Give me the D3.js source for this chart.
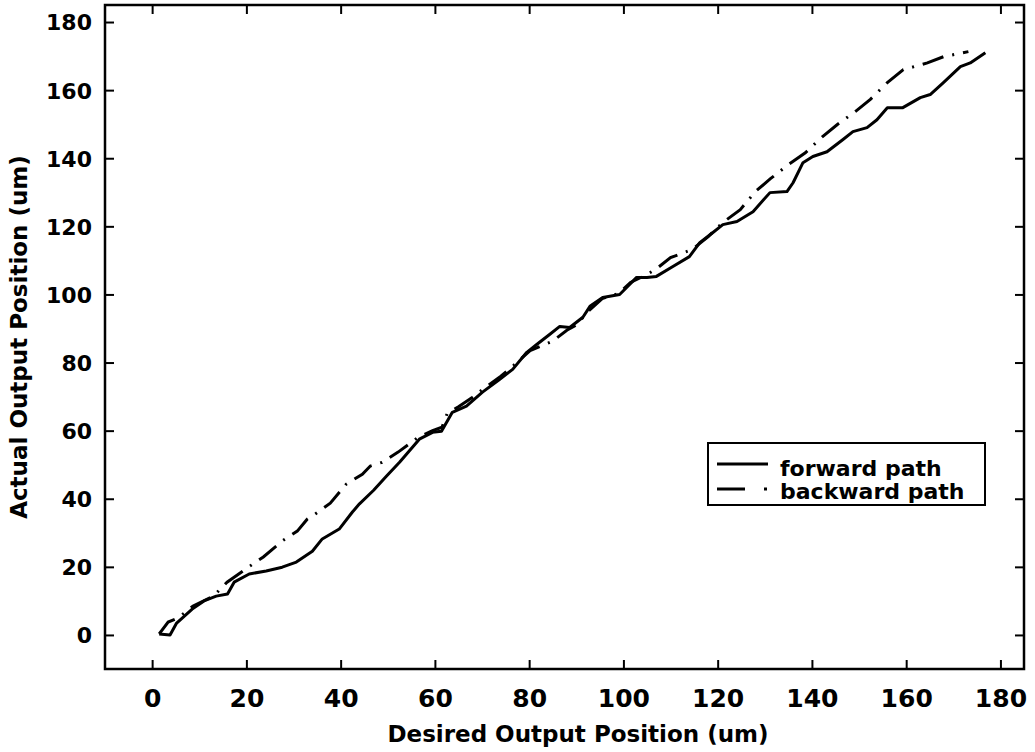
<!DOCTYPE html>
<html>
<head>
<meta charset="utf-8">
<script src="https://cdn.jsdelivr.net/npm/d3@7"></script>
<style>
  body { margin: 0; background: white; }
  svg { display: block; }
</style>
</head>
<body>
<svg></svg>
<script>
const w = 1035;
const h = 752;

// forward path: [desired, actual] in um
const forwardPath = [
  [1.5, 0.3], [3.8, 0], [5.2, 3.5], [8.5, 7.6], [11, 10], [13.6, 11.4], [16, 12],
  [17.4, 15.5], [20.6, 17.9], [24.2, 18.8], [27.6, 19.9], [30.6, 21.4], [34, 24.6],
  [36.1, 28.2], [39.7, 31.1], [42.5, 36.1], [44, 38.5], [47, 42.5], [49.7, 46.6],
  [52.5, 50.7], [56.7, 57.5], [59.5, 59.5], [61.4, 59.8], [63.7, 65.4], [66.7, 67.2],
  [70.1, 71.3], [73.7, 75], [76.5, 78], [79.5, 83], [81.6, 85.3], [84.4, 88.3],
  [86.5, 90.6], [88.6, 90.3], [91.4, 93.3], [92.9, 96.5], [95.6, 99.1], [99.2, 100],
  [102.8, 105], [105, 105], [107, 105.3], [110.5, 108.2], [114, 111.1], [116.2, 115.2],
  [119, 118.2], [121.1, 120.5], [124.1, 121.4], [127.5, 124.3], [131.1, 129.9],
  [134.7, 130.2], [136, 132.8], [138.1, 138.7], [140.2, 140.5], [143.2, 141.9],
  [146.6, 145.5], [148.7, 147.8], [151.7, 149], [153.8, 151.3], [156, 154.8],
  [159.2, 154.8], [163, 157.8], [165.1, 158.7], [167.9, 162.2], [171.5, 166.9],
  [173.6, 168], [176.8, 171]
];

// backward path: [desired, actual] in um
const backwardPath = [
  [1.5, 0.3], [3.4, 3.8], [5.5, 5], [8.7, 8.5], [13, 11.4], [15.9, 15.5], [20.4, 19.9],
  [23.6, 22.9], [27.6, 27.6], [30.8, 30.5], [32.9, 34], [34.6, 35.5], [37.8, 38.7],
  [41.2, 44.3], [44.6, 47.2], [46.3, 49.6], [48.8, 50.7], [52.2, 53.7], [56.5, 58.1],
  [59.5, 60], [61.5, 61], [62.6, 65], [65, 67], [68, 69.8], [71, 73], [74, 76],
  [77, 79.5], [80.2, 83.5], [84.9, 86.2], [88, 89.5], [90, 91], [92.5, 95], [95.5, 98.8],
  [99, 100.3], [101.5, 103.5], [104.2, 105.3], [106.8, 107.3], [110, 110.8],
  [114.6, 113.2], [118, 117], [121, 121], [124.8, 124.9], [128, 130.2], [131.2, 134],
  [135, 138.1], [138.6, 141.6], [142.2, 146.3], [145.4, 149.9], [149.2, 153.7],
  [152.4, 157.3], [156, 162.2], [159.4, 166], [164.5, 168], [167.9, 169.8], [173.2, 171.3]
];

const xTicks = [0, 20, 40, 60, 80, 100, 120, 140, 160, 180];
const yTicks = [0, 20, 40, 60, 80, 100, 120, 140, 160, 180];
const seriesNames = ["forward path", "backward path"];

const font = "'DejaVu Sans', sans-serif";
const dashDot = "22,9,2,9";

const svg = d3.select("svg")
    .attr("width", w)
    .attr("height", h)
    .attr("viewBox", [0, 0, w, h]);

svg.append("rect").attr("width", w).attr("height", h).attr("fill", "white");

const plotLeft = 105, plotRight = 1024, plotTop = 5, plotBottom = 669;

const x = d3.scaleLinear().domain([-10, 185]).range([plotLeft, plotRight]);
const y = d3.scaleLinear().domain([-10, 185]).range([plotBottom, plotTop]);

// axes, ticks pointing inward on all four sides
const xAxis = svg.append("g")
    .attr("transform", `translate(0,${plotBottom})`)
    .call(d3.axisBottom(x).tickValues(xTicks).tickSizeInner(-9).tickSizeOuter(0));
xAxis.selectAll("text")
    .attr("y", 38).attr("dy", 0)
    .attr("font-size", "25px");

const yAxis = svg.append("g")
    .attr("transform", `translate(${plotLeft},0)`)
    .call(d3.axisLeft(y).tickValues(yTicks).tickSizeInner(-9).tickSizeOuter(0));
yAxis.selectAll("text")
    .attr("x", -13)
    .attr("dy", "0.36em")
    .attr("font-size", "22px");

svg.append("g")
    .attr("transform", `translate(0,${plotTop})`)
    .call(d3.axisTop(x).tickValues(xTicks).tickSizeInner(-9).tickSizeOuter(0).tickFormat(""));
svg.append("g")
    .attr("transform", `translate(${plotRight},0)`)
    .call(d3.axisRight(y).tickValues(yTicks).tickSizeInner(-9).tickSizeOuter(0).tickFormat(""));

svg.selectAll(".domain").remove();
svg.selectAll(".tick line").attr("stroke", "#000").attr("stroke-width", 2);
svg.selectAll(".tick text")
    .attr("fill", "#000")
    .attr("font-family", font)
    .attr("font-weight", "bold");

svg.append("rect")
    .attr("x", plotLeft).attr("y", plotTop)
    .attr("width", plotRight - plotLeft).attr("height", plotBottom - plotTop)
    .attr("fill", "none")
    .attr("stroke", "#000")
    .attr("stroke-width", 2.5);

// axis labels
svg.append("text")
    .attr("x", 578)
    .attr("y", 742)
    .attr("text-anchor", "middle")
    .attr("font-family", font)
    .attr("font-weight", "bold")
    .attr("font-size", "23px")
    .text("Desired Output Position (um)");

svg.append("text")
    .attr("transform", `translate(27,${(plotTop + plotBottom) / 2}) rotate(-90)`)
    .attr("text-anchor", "middle")
    .attr("font-family", font)
    .attr("font-weight", "bold")
    .attr("font-size", "23px")
    .text("Actual Output Position (um)");

// curves
const line = d3.line()
    .x(d => x(d[0]))
    .y(d => y(d[1]))
    .curve(d3.curveLinear);

svg.append("path")
    .datum(forwardPath)
    .attr("d", line)
    .attr("fill", "none")
    .attr("stroke", "#000")
    .attr("stroke-width", 3)
    .attr("stroke-linejoin", "round");

svg.append("path")
    .datum(backwardPath)
    .attr("d", line)
    .attr("fill", "none")
    .attr("stroke", "#000")
    .attr("stroke-width", 3)
    .attr("stroke-dasharray", dashDot);

// legend
const legend = svg.append("g");
legend.append("rect")
    .attr("x", 708).attr("y", 443)
    .attr("width", 277).attr("height", 62)
    .attr("fill", "white")
    .attr("stroke", "#000")
    .attr("stroke-width", 2);

const legendRows = [
  { name: seriesNames[0], dash: null, ly: 464, ty: 476 },
  { name: seriesNames[1], dash: "28,19,3,20", ly: 489, ty: 499 }
];

legend.selectAll("line.key")
    .data(legendRows)
    .join("line")
    .attr("class", "key")
    .attr("x1", 717).attr("x2", 768)
    .attr("y1", d => d.ly).attr("y2", d => d.ly)
    .attr("stroke", "#000")
    .attr("stroke-width", 3)
    .attr("stroke-dasharray", d => d.dash);

legend.selectAll("text.key")
    .data(legendRows)
    .join("text")
    .attr("class", "key")
    .attr("x", 780)
    .attr("y", d => d.ty)
    .attr("font-family", font)
    .attr("font-weight", "bold")
    .attr("font-size", "22px")
    .text(d => d.name);
</script>
</body>
</html>
